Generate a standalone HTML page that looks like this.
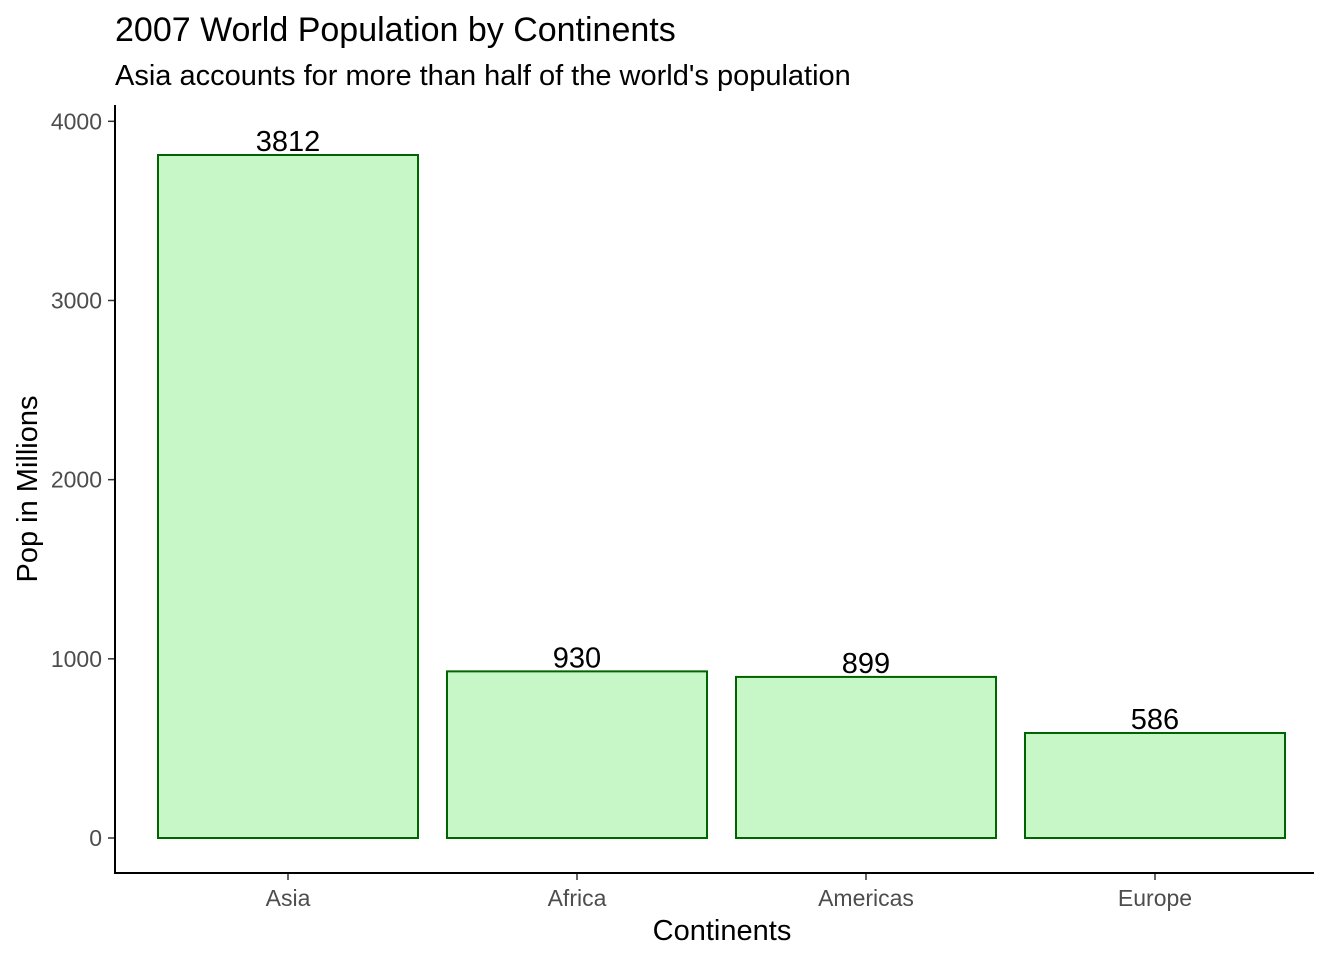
<!DOCTYPE html>
<html><head><meta charset="utf-8"><style>
body{margin:0;background:#fff;}
svg text{font-family:"Liberation Sans",Arial,sans-serif;}
</style></head><body>
<svg width="1344" height="960" xmlns="http://www.w3.org/2000/svg">
<text x="115" y="41" font-size="34" fill="#000">2007 World Population by Continents</text>
<text x="115" y="85" font-size="29" fill="#000">Asia accounts for more than half of the world's population</text>
<g id="plot"></g>
<text x="722" y="940" font-size="29" text-anchor="middle" fill="#000">Continents</text>
<text transform="translate(37,489) rotate(-90)" font-size="29" text-anchor="middle" fill="#000">Pop in Millions</text>
</svg>
<script>
const categories = ["Asia","Africa","Americas","Europe"];
const values = [3812, 930, 899, 586];
const labels = ["3812","930","899","586"];
const yTicks = [0,1000,2000,3000,4000];

const NS = "http://www.w3.org/2000/svg";
const g = document.getElementById('plot');
const y0 = 838, pxPer = 683/3812;
const y = v => y0 - v*pxPer;
const step = 289, x0 = 288;
const xc = i => x0 + i*step;
const bw = 260;
function mk(tag, attrs){const e=document.createElementNS(NS,tag);for(const k in attrs)e.setAttribute(k,attrs[k]);g.appendChild(e);return e;}

categories.forEach((c,i)=>{
  const r = mk('rect',{x:xc(i)-bw/2,y:y(values[i]),width:bw,height:y0-y(values[i]),fill:'#c7f7c7',stroke:'#006400','stroke-width':2});
  
  
  const t = mk('text',{x:xc(i),y:y(values[i])-4,'text-anchor':'middle','font-size':29,fill:'#000'});
  t.textContent = labels[i];
  
  
  const tk = mk('line',{x1:xc(i),x2:xc(i),y1:873,y2:880,stroke:'#333','stroke-width':1.5});
  
  
  const tl = mk('text',{x:xc(i),y:906,'text-anchor':'middle','font-size':23,fill:'#4d4d4d'});
  tl.textContent = c;
  
  
});
yTicks.forEach(v=>{
  const tk = mk('line',{x1:108,x2:115,y1:y(v),y2:y(v),stroke:'#333','stroke-width':1.5});
  
  
  const tl = mk('text',{x:102,y:y(v)+8,'text-anchor':'end','font-size':23,fill:'#4d4d4d'});
  tl.textContent = v;
  
  
});
const ya = mk('line',{x1:115,x2:115,y1:105,y2:873,stroke:'#000','stroke-width':2});


const xa = mk('line',{x1:114,x2:1314,y1:873,y2:873,stroke:'#000','stroke-width':2});


</script>
</body></html>
